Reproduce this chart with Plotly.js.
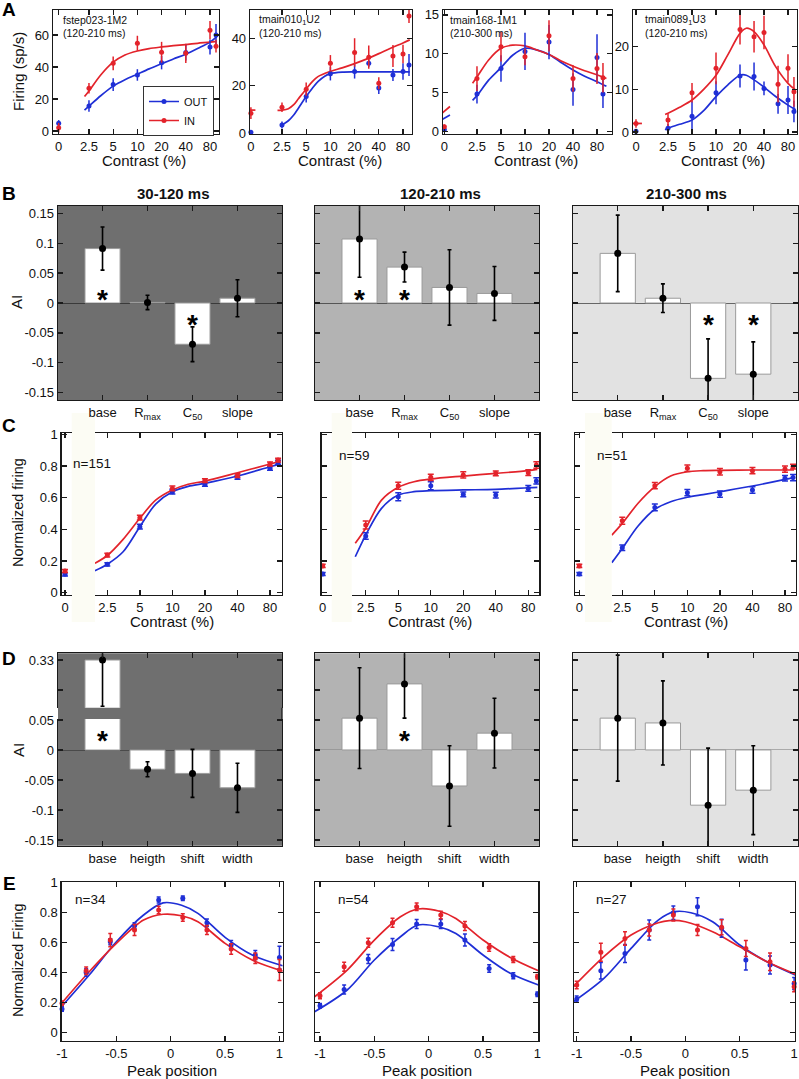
<!DOCTYPE html>
<html><head><meta charset="utf-8">
<script src="https://cdn.plot.ly/plotly-3.0.1.min.js"></script>
<style>html,body{margin:0;padding:0;background:#fff}</style>
</head><body><div id="chart" style="width:799px;height:1079px"></div>
<script>
const FONT = 'Liberation Sans, Arial, Helvetica, sans-serif';
const RED = '#e3232b';
const BLUE = '#1f2fd6';

// ---------------- Row A : single units ----------------
const contrastTicks = [2.5, 5, 10, 20, 40, 80];
const contrastTickText = ['2.5', '5', '10', '20', '40', '80'];
const zeroContrast = [0];

const contrastA1 = [2.5, 5, 10, 20, 40, 80, 95];
const outA1 = [15.6, 29, 35, 42.7, 49, 52.5, 60];
const outErrA1 = [3.6, 4, 3.6, 4.2, 5, 4.7, 6.8];
const inA1 = [26.7, 42.3, 54.8, 49.2, 48.5, 63, 53];
const inErrA1 = [3.3, 4.3, 4.7, 6.5, 6, 5.7, 4];
const zeroOutA1 = [4.8], zeroOutErrA1 = [2], zeroInA1 = [2], zeroInErrA1 = [3];
const fitCA1 = [2.2, 2.5, 3.5, 5, 7, 10, 14, 20, 28, 40, 56, 80, 97];
const fitInA1 = [21.5, 25, 35, 43, 47.5, 50, 51.5, 52.5, 53.3, 54, 54.8, 55.5, 56];
const fitOutA1 = [13, 15.5, 22, 28, 32, 35.5, 38.8, 42, 45, 48, 51.5, 55.5, 59];

const contrastA2 = [2.5, 5, 10, 20, 30, 40, 60, 80, 95];
const outA2 = [3.4, 15.4, 25, 26, 29.4, 19, 24.5, 26, 28.7];
const outErrA2 = [1.5, 2.5, 2.8, 3, 1.5, 2.5, 2.5, 3.5, 4.6];
const inA2 = [10.9, 18.5, 29.4, 34, 32, 21, 32.5, 33.4, 49.4];
const inErrA2 = [2, 2.8, 3.5, 6, 4.9, 2.5, 4.6, 3.9, 3];
const zeroOutA2 = [0.4], zeroOutErrA2 = [0.5], zeroInA2 = [8.4], zeroInErrA2 = [2.5];
const fitCInA2 = [2.2, 2.5, 3, 3.5, 4, 5, 6, 7, 10, 14, 20, 28, 40, 56, 80, 97];
const fitInA2 = [9.6, 9.7, 10.3, 12, 14.5, 18.6, 21.8, 23.8, 26, 27.5, 29.3, 31.2, 33.5, 35.8, 38, 39.3];
const fitCOutA2 = [2.4, 2.5, 3, 3.5, 4, 5, 6, 7, 8.5, 10, 14, 20, 40, 80, 97];
const fitOutA2 = [2.7, 3.4, 5.2, 7.6, 10.5, 15.4, 19, 21.7, 24, 25.1, 25.7, 25.8, 25.8, 25.8, 25.8];
const zeroFitXA2 = [-0.2, 0.25], zeroFitInA2 = [9.7, 9.7];

const contrastA3 = [2.5, 5, 10, 20, 40, 80, 95];
const outA3 = [4.8, 8.1, 10.3, 11.5, 5.4, 9.5, 4.8];
const outErrA3 = [1.2, 1.7, 2.4, 2.2, 2.1, 3, 1.8];
const inA3 = [6.8, 10.9, 9.6, 12.3, 6.8, 8.1, 6.9];
const inErrA3 = [1.6, 1.9, 1.1, 2, 1.7, 2, 1.9];
const zeroOutA3 = [0.2], zeroOutErrA3 = [0.2], zeroInA3 = [0.6], zeroInErrA3 = [0.3];
const fitCA3 = [2.2, 2.5, 3.5, 5, 7, 10, 14, 20, 28, 40, 56, 80, 105];
const fitInA3 = [6.2, 7.0, 9.2, 10.7, 11.1, 11.0, 10.5, 9.9, 9.1, 8.4, 7.8, 7.3, 6.8];
const fitOutA3 = [4.0, 4.6, 6.6, 8.2, 9.8, 10.7, 10.5, 9.9, 8.9, 7.9, 7.1, 6.4, 5.8];
const zeroFitXA3 = [-0.15, 0.33], zeroFitInA3 = [2.3, 3.2], zeroFitOutA3 = [1.5, 2.1];

const contrastA4 = [2.5, 5, 10, 20, 30, 40, 60, 80, 95];
const outA4 = [0.9, 3.7, 9.2, 13.1, 13, 10.2, 6.6, 7.5, 4.8];
const outErrA4 = [1, 3.5, 2.7, 2.7, 3.3, 1.6, 2.3, 3.3, 2.5];
const inA4 = [2.8, 9.2, 14.9, 24, 22.3, 23.3, 11.2, 14.9, 9.4];
const inErrA4 = [1.4, 2.3, 3.7, 3.5, 3.7, 3.9, 4.3, 3.3, 3.5];
const zeroOutA4 = [0.2], zeroOutErrA4 = [0.3], zeroInA4 = [2], zeroInErrA4 = [1];
const fitCA4 = [2.3, 2.5, 3.5, 5, 7, 10, 14, 20, 24, 30, 40, 56, 80, 100];
const fitInA4 = [4.1, 4.4, 5.8, 7.5, 10, 13.3, 18, 23.1, 24.3, 23.5, 20.4, 15.3, 11.4, 9.8];
const fitOutA4 = [0.5, 0.9, 1.8, 2.8, 5, 8.3, 11, 13.3, 13.3, 12.2, 10.5, 8.3, 6.3, 5.2];
const zeroFitXA4 = [-0.18, 0.35], zeroFitInA4 = [2, 2];

// ---------------- Row B : attention index of contrast fit params ----------------
const paramsB = ['base', 'R<sub>max</sub>', 'C<sub>50</sub>', 'slope'];
const aiB1 = [0.091, 0.001, -0.069, 0.008], errB1 = [0.036, 0.012, 0.029, 0.031], sigB1 = [1, 0, 1, 0];
const aiB2 = [0.107, 0.06, 0.026, 0.016], errB2 = [0.064, 0.025, 0.063, 0.045], sigB2 = [1, 1, 0, 0];
const aiB3 = [0.083, 0.008, -0.126, -0.119], errB3 = [0.064, 0.024, 0.066, 0.054], sigB3 = [0, 0, 1, 1];
const aiTickVals = [-0.15, -0.1, -0.05, 0, 0.05, 0.1, 0.15];
const aiTickText = ['-0.15', '-0.1', '-0.05', '0', '0.05', '0.1', '0.15'];

// ---------------- Row C : population contrast responses ----------------
const contrastC = [2.5, 5, 10, 20, 40, 80, 95];
const outC1 = [0.179, 0.417, 0.638, 0.685, 0.729, 0.786, 0.824];
const outErrC1 = [0.01, 0.015, 0.015, 0.012, 0.012, 0.012, 0.012];
const inC1 = [0.238, 0.474, 0.659, 0.708, 0.74, 0.813, 0.838];
const inErrC1 = [0.012, 0.015, 0.015, 0.012, 0.012, 0.012, 0.012];
const zeroOutC1 = [0.116], zeroInC1 = [0.137], zeroErrC1 = [0.01];
const fitCC1 = [1.92, 2.5, 3.5, 5, 7, 10, 14, 20, 40, 80, 97];
const fitInC1 = [0.186, 0.235, 0.337, 0.47, 0.585, 0.649, 0.685, 0.705, 0.758, 0.813, 0.828];
const fitOutC1 = [0.139, 0.18, 0.259, 0.417, 0.56, 0.638, 0.672, 0.691, 0.737, 0.796, 0.811];

const outC2 = [0.358, 0.606, 0.676, 0.621, 0.617, 0.659, 0.706];
const outErrC2 = [0.02, 0.025, 0.025, 0.015, 0.018, 0.018, 0.02];
const inC2 = [0.428, 0.676, 0.729, 0.744, 0.754, 0.758, 0.807];
const inErrC2 = [0.025, 0.022, 0.02, 0.02, 0.015, 0.018, 0.02];
const zeroOutC2 = [0.118], zeroInC2 = [0.169], zeroErrC2 = [0.01];
const fitCC2 = [2.0, 2.5, 3.5, 5, 7, 10, 20, 40, 80, 97];
const fitInC2 = [0.312, 0.407, 0.585, 0.666, 0.701, 0.718, 0.737, 0.754, 0.771, 0.779];
const fitOutC2 = [0.227, 0.364, 0.533, 0.617, 0.638, 0.644, 0.649, 0.653, 0.663, 0.665];

const outC3 = [0.284, 0.539, 0.632, 0.623, 0.649, 0.723, 0.727];
const outErrC3 = [0.018, 0.022, 0.02, 0.02, 0.02, 0.018, 0.02];
const inC3 = [0.455, 0.676, 0.786, 0.764, 0.771, 0.781, 0.796];
const inErrC3 = [0.022, 0.02, 0.02, 0.02, 0.02, 0.02, 0.015];
const zeroOutC3 = [0.118], zeroInC3 = [0.169], zeroErrC3 = [0.01];
const fitCC3 = [2.0, 2.5, 3.5, 5, 7, 10, 14, 20, 40, 80, 97];
const fitInC3 = [0.364, 0.438, 0.565, 0.67, 0.737, 0.764, 0.771, 0.773, 0.775, 0.775, 0.775];
const fitOutC3 = [0.19, 0.28, 0.421, 0.527, 0.575, 0.603, 0.62, 0.638, 0.674, 0.716, 0.729];

// ---------------- Row D : attention index of peak fit params ----------------
const paramsD = ['base', 'heigth', 'shift', 'width'];
const aiD1 = [0.33, -0.032, -0.039, -0.063], errD1 = [0.077, 0.0125, 0.04, 0.041], sigD1 = [1, 0, 0, 0];
const aiD2 = [0.053, 0.11, -0.06, 0.028], errD2 = [0.084, 0.057, 0.067, 0.058], sigD2 = [0, 1, 0, 0];
const aiD3 = [0.053, 0.045, -0.092, -0.067], errD3 = [0.105, 0.07, 0.095, 0.074], sigD3 = [0, 0, 0, 0];

// ---------------- Row E : population peak tuning ----------------
const peakPos = [-1, -0.778, -0.556, -0.333, -0.111, 0.111, 0.333, 0.556, 0.778, 1];
const outE1 = [0.158, 0.402, 0.607, 0.713, 0.885, 0.896, 0.733, 0.585, 0.518, 0.502];
const outErrE1 = [0.015, 0.025, 0.02, 0.02, 0.02, 0.015, 0.025, 0.03, 0.03, 0.075];
const inE1 = [0.196, 0.413, 0.618, 0.685, 0.818, 0.769, 0.685, 0.558, 0.496, 0.418];
const inErrE1 = [0.015, 0.025, 0.044, 0.037, 0.025, 0.025, 0.03, 0.035, 0.035, 0.07];
const fitXE1 = [-1, -0.75, -0.5, -0.25, -0.07, 0.1, 0.25, 0.5, 0.75, 1.03];
const fitOutE1 = [0.178, 0.385, 0.607, 0.785, 0.866, 0.85, 0.796, 0.636, 0.518, 0.447];
const fitInE1 = [0.2, 0.407, 0.596, 0.751, 0.79, 0.78, 0.74, 0.596, 0.485, 0.411];

const outE2 = [0.18, 0.289, 0.491, 0.589, 0.725, 0.725, 0.618, 0.429, 0.38, 0.256];
const outErrE2 = [0.015, 0.03, 0.03, 0.04, 0.03, 0.03, 0.04, 0.025, 0.02, 0.015];
const inE2 = [0.247, 0.44, 0.6, 0.733, 0.84, 0.785, 0.711, 0.569, 0.489, 0.373];
const inErrE2 = [0.02, 0.03, 0.03, 0.03, 0.025, 0.025, 0.03, 0.025, 0.02, 0.015];
const fitXE2 = [-1.05, -0.75, -0.5, -0.26, -0.1, 0.1, 0.25, 0.5, 0.75, 1.01];
const fitOutE2 = [0.14, 0.285, 0.485, 0.64, 0.718, 0.705, 0.662, 0.518, 0.396, 0.318];
const fitInE2 = [0.24, 0.418, 0.618, 0.773, 0.825, 0.81, 0.762, 0.618, 0.502, 0.413];

const outE3 = [0.225, 0.413, 0.529, 0.685, 0.8, 0.84, 0.696, 0.485, 0.451, 0.329];
const outErrE3 = [0.02, 0.055, 0.06, 0.066, 0.045, 0.06, 0.06, 0.066, 0.06, 0.04];
const inE3 = [0.318, 0.536, 0.629, 0.685, 0.785, 0.685, 0.703, 0.562, 0.473, 0.307];
const inErrE3 = [0.025, 0.06, 0.045, 0.04, 0.04, 0.037, 0.05, 0.053, 0.058, 0.033];
const fitXE3 = [-1.03, -0.75, -0.5, -0.25, -0.15, 0, 0.25, 0.5, 0.75, 1.01];
const fitInE3 = [0.307, 0.507, 0.651, 0.733, 0.748, 0.74, 0.673, 0.573, 0.473, 0.391];
const fitXE3b = [-1.03, -0.75, -0.5, -0.25, -0.1, 0.05, 0.25, 0.5, 0.75, 1.01];
const fitOutE3b = [0.207, 0.362, 0.562, 0.751, 0.807, 0.8, 0.74, 0.585, 0.473, 0.385];

const normTicks = [0, 0.2, 0.4, 0.6, 0.8, 1];
const normTickText = ['0', '0.2', '0.4', '0.6', '0.8', '1'];
const peakTicks = [-1, -0.5, 0, 0.5, 1];
const peakTickText = ['-1', '-0.5', '0', '0.5', '1'];

// ====================== build ======================
const W = 799, H = 1079;
const px = p => p / W;
const py = p => 1 - p / H;

const layout = {
  width: W, height: H, margin: {l: 0, r: 0, t: 0, b: 0},
  paper_bgcolor: '#ffffff', plot_bgcolor: 'rgba(0,0,0,0)',
  font: {family: FONT, size: 13, color: '#111'},
  hovermode: false, showlegend: true,
  legend: {x: px(214), xanchor: 'right', y: py(86), yanchor: 'top', bgcolor: '#ffffff',
           bordercolor: '#333', borderwidth: 1, font: {size: 11, family: FONT, color: '#111'},
           itemwidth: 30, tracegroupgap: 0},
  shapes: [], annotations: []
};
const traces = [];
let nx = 0, ny = 0;
function addAxis(letter) {
  if (letter === 'x') { nx++; const id = nx === 1 ? 'x' : 'x' + nx; layout[nx === 1 ? 'xaxis' : 'xaxis' + nx] = {}; return id; }
  ny++; const id = ny === 1 ? 'y' : 'y' + ny; layout[ny === 1 ? 'yaxis' : 'yaxis' + ny] = {}; return id;
}
function ax(id) { return layout[id.charAt(0) + 'axis' + id.slice(1)]; }
function baseAx(extra) {
  return Object.assign({showgrid: false, zeroline: false, showline: true, linecolor: '#1a1a1a', linewidth: 1.3,
    ticks: 'inside', ticklen: 5, tickwidth: 1.3, tickcolor: '#1a1a1a', fixedrange: true,
    tickfont: {family: FONT, size: 13, color: '#111'}}, extra);
}
function rect(x0, x1, y0, y1, color) {
  layout.shapes.push({type: 'rect', xref: 'paper', yref: 'paper', x0: px(x0), x1: px(x1), y0: py(y1), y1: py(y0),
    fillcolor: color, line: {width: 0}, layer: 'below'});
}
function ann(text, x, y, o) {
  layout.annotations.push(Object.assign({xref: 'paper', yref: 'paper', x: px(x), y: py(y), text: text, showarrow: false,
    xanchor: 'center', yanchor: 'middle', font: {family: FONT, size: 15, color: '#111'}}, o || {}));
}
function pts(x, y, err, color, xa, ya, cap, size) {
  traces.push({type: 'scatter', mode: 'markers', x: x, y: y, xaxis: xa, yaxis: ya, cliponaxis: false, showlegend: false,
    marker: {color: color, size: size || 5}, error_y: {type: 'data', array: err, visible: true, color: color, thickness: 1.5, width: cap || 0}});
}
function curve(x, y, color, xa, ya) {
  traces.push({type: 'scatter', mode: 'lines', x: x, y: y, xaxis: xa, yaxis: ya, showlegend: false,
    line: {color: color, width: 1.7, shape: 'spline', smoothing: 0.9}});
}

function contrastPanel(g) {
  const xz = addAxis('x'), xg = addAxis('x'), yl = addAxis('y'), yr = addAxis('y');
  Object.assign(ax(xz), baseAx({domain: [px(g.L), px(g.Z)], range: g.zr, tickvals: [0], ticktext: ['0'], anchor: yl, mirror: 'ticks'}));
  Object.assign(ax(xg), baseAx({type: 'log', domain: [px(g.G), px(g.R)], range: g.gr, tickvals: contrastTicks, ticktext: contrastTickText, anchor: yr, mirror: 'ticks'}));
  Object.assign(ax(yl), baseAx({domain: [py(g.bot), py(g.top)], range: g.yr, tickvals: g.yt, ticktext: g.ytt, anchor: xz, showticklabels: g.showY}));
  Object.assign(ax(yr), baseAx({domain: [py(g.bot), py(g.top)], range: g.yr, tickvals: g.yt, anchor: xg, side: 'right', showticklabels: false}));
  return {xz: xz, xg: xg, yl: yl, yr: yr};
}
function catPanel(cats, g) {
  const xa = addAxis('x'), ya = addAxis('y');
  Object.assign(ax(xa), baseAx({type: 'category', categoryorder: 'array', categoryarray: cats, domain: [px(g.L), px(g.R)], range: [-0.99, 3.99], anchor: ya, mirror: 'ticks'}));
  Object.assign(ax(ya), baseAx({domain: [py(g.bot), py(g.top)], range: g.yr, tickvals: aiTickVals, ticktext: aiTickText, anchor: xa, mirror: 'ticks',
    showticklabels: g.showY, zeroline: true, zerolinecolor: g.zc, zerolinewidth: 1}));
  rect(g.L, g.R, g.top, g.bot, g.bg);
  return {xa: xa, ya: ya};
}
function barsAndDots(cats, vals, errs, xa, ya) {
  traces.push({type: 'bar', x: cats, y: vals, xaxis: xa, yaxis: ya, width: 0.78, showlegend: false,
    marker: {color: '#ffffff', line: {color: '#9a9a9a', width: 1}}});
  traces.push({type: 'scatter', mode: 'markers', x: cats, y: vals, xaxis: xa, yaxis: ya, showlegend: false,
    marker: {color: '#000', size: 7}, error_y: {type: 'data', array: errs, visible: true, color: '#000', thickness: 1.6, width: 2}});
}
function stars(vals, sig, xa, ya, posY, negY) {
  vals.forEach((v, i) => {
    if (sig[i]) layout.annotations.push({xref: xa, yref: ya, x: i, y: v > 0 ? posY : negY, text: '<b>*</b>', showarrow: false,
      font: {family: FONT, size: 28, color: '#000'}, yshift: -7});
  });
}

// ---------- Row A ----------
const aCfg = [
  {L: 53, Z: 70, G: 70, R: 219, zr: [-0.335, 0.665], gr: [0.162, 2.015], yr: [-1.9, 75.6], yt: [0, 20, 40, 60]},
  {L: 250, Z: 268, G: 268, R: 412, zr: [-0.05, 0.95], gr: [0.224, 2.015], yr: [-0.38, 51.9], yt: [0, 20, 40]},
  {L: 443, Z: 460, G: 460, R: 612, zr: [-0.08, 0.92], gr: [0.185, 2.091], yr: [-0.34, 15.63], yt: [0, 5, 10, 15]},
  {L: 633, Z: 650, G: 650, R: 797, zr: [-0.176, 0.824], gr: [0.172, 2.016], yr: [-0.47, 28.57], yt: [0, 10, 20]}
];
const aPanels = aCfg.map(c => contrastPanel(Object.assign({top: 10, bot: 134, ytt: c.yt.map(String), showY: true}, c)));
(function () {
  const p = aPanels[0];
  curve(fitCA1, fitOutA1, BLUE, p.xg, p.yr); curve(fitCA1, fitInA1, RED, p.xg, p.yr);
  pts(contrastA1, outA1, outErrA1, BLUE, p.xg, p.yr); pts(contrastA1, inA1, inErrA1, RED, p.xg, p.yr);
  pts(zeroContrast, zeroOutA1, zeroOutErrA1, BLUE, p.xz, p.yl); pts(zeroContrast, zeroInA1, zeroInErrA1, RED, p.xz, p.yl);
  traces.push({type: 'scatter', mode: 'lines+markers', name: 'OUT', x: [null], y: [null], xaxis: p.xg, yaxis: p.yr, line: {color: BLUE, width: 1.5}, marker: {color: BLUE, size: 5}});
  traces.push({type: 'scatter', mode: 'lines+markers', name: 'IN', x: [null], y: [null], xaxis: p.xg, yaxis: p.yr, line: {color: RED, width: 1.5}, marker: {color: RED, size: 5}});
})();
(function () {
  const p = aPanels[1];
  curve(fitCOutA2, fitOutA2, BLUE, p.xg, p.yr); curve(fitCInA2, fitInA2, RED, p.xg, p.yr);
  curve(zeroFitXA2, zeroFitInA2, RED, p.xz, p.yl);
  pts(contrastA2, outA2, outErrA2, BLUE, p.xg, p.yr); pts(contrastA2, inA2, inErrA2, RED, p.xg, p.yr);
  pts(zeroContrast, zeroOutA2, zeroOutErrA2, BLUE, p.xz, p.yl); pts(zeroContrast, zeroInA2, zeroInErrA2, RED, p.xz, p.yl);
})();
(function () {
  const p = aPanels[2];
  curve(fitCA3, fitOutA3, BLUE, p.xg, p.yr); curve(fitCA3, fitInA3, RED, p.xg, p.yr);
  curve(zeroFitXA3, zeroFitOutA3, BLUE, p.xz, p.yl); curve(zeroFitXA3, zeroFitInA3, RED, p.xz, p.yl);
  pts(contrastA3, outA3, outErrA3, BLUE, p.xg, p.yr); pts(contrastA3, inA3, inErrA3, RED, p.xg, p.yr);
  pts(zeroContrast, zeroOutA3, zeroOutErrA3, BLUE, p.xz, p.yl); pts(zeroContrast, zeroInA3, zeroInErrA3, RED, p.xz, p.yl);
})();
(function () {
  const p = aPanels[3];
  curve(fitCA4, fitOutA4, BLUE, p.xg, p.yr); curve(fitCA4, fitInA4, RED, p.xg, p.yr);
  curve(zeroFitXA4, zeroFitInA4, RED, p.xz, p.yl);
  pts(contrastA4, outA4, outErrA4, BLUE, p.xg, p.yr); pts(contrastA4, inA4, inErrA4, RED, p.xg, p.yr);
  pts(zeroContrast, zeroOutA4, zeroOutErrA4, BLUE, p.xz, p.yl); pts(zeroContrast, zeroInA4, zeroInErrA4, RED, p.xz, p.yl);
})();
ann('<b>A</b>', 9, 9, {font: {family: FONT, size: 19, color: '#000'}});
ann('Firing (sp/s)', 18, 72, {textangle: -90});
[144, 340, 536, 723].forEach(cx => ann('Contrast (%)', cx, 160));
[[61, 'fstep023-1M2', '(120-210 ms)'], [257, 'tmain010<sub>1</sub>U2', '(120-210 ms)'], [448, 'tmain168-1M1', '(210-300 ms)'], [643, 'tmain089<sub>1</sub>U3', '(120-210 ms)']].forEach(t => {
  ann(t[1], t[0], 20.5, {xanchor: 'left', font: {family: FONT, size: 10.5, color: '#111'}});
  ann(t[2], t[0], 33.5, {xanchor: 'left', font: {family: FONT, size: 10.5, color: '#111'}});
});

// ---------- Row B ----------
const bGeom = [{L: 58, R: 282, bg: '#6f6f6f', zc: '#3a3a3a', showY: true}, {L: 315, R: 539, bg: '#b3b3b3', zc: '#555', showY: false}, {L: 573, R: 798, bg: '#e2e2e2', zc: '#666', showY: false}];
const bData = [[aiB1, errB1, sigB1], [aiB2, errB2, sigB2], [aiB3, errB3, sigB3]];
bGeom.forEach((g, i) => {
  const p = catPanel(paramsB, Object.assign({top: 206, bot: 400, yr: [-0.1622, 0.1622]}, g));
  barsAndDots(paramsB, bData[i][0], bData[i][1], p.xa, p.ya);
  stars(bData[i][0], bData[i][2], p.xa, p.ya, 0.018, -0.025);
});
ann('<b>B</b>', 9, 193, {font: {family: FONT, size: 19, color: '#000'}});
ann('AI', 17, 302, {textangle: -90});
ann('<b>30-120 ms</b>', 173, 193); ann('<b>120-210 ms</b>', 440, 193); ann('<b>210-300 ms</b>', 686, 193);

// ---------- Row C ----------
const cCfg = [
  {L: 61.7, Z: 71.7, G: 95, R: 282, zr: [-0.33, 0.67], gr: [0.284, 2.014], showY: true},
  {L: 321.7, Z: 331.7, G: 351.7, R: 539.3, zr: [-0.1, 0.9], gr: [0.268, 2.005], showY: false},
  {L: 575, Z: 585, G: 611.7, R: 796, zr: [-0.43, 0.57], gr: [0.300, 2.005], showY: false}
];
const cData = [
  [outC1, outErrC1, inC1, inErrC1, zeroOutC1, zeroInC1, zeroErrC1, fitCC1, fitOutC1, fitInC1],
  [outC2, outErrC2, inC2, inErrC2, zeroOutC2, zeroInC2, zeroErrC2, fitCC2, fitOutC2, fitInC2],
  [outC3, outErrC3, inC3, inErrC3, zeroOutC3, zeroInC3, zeroErrC3, fitCC3, fitOutC3, fitInC3]
];
cCfg.forEach((c, i) => {
  const p = contrastPanel(Object.assign({top: 433.3, bot: 595, yr: [-0.0145, 1.007], yt: normTicks, ytt: normTickText}, c));
  rect(c.Z, c.G, 413, 622, '#fcfcf4');
  const d = cData[i];
  curve(d[7], d[8], BLUE, p.xg, p.yr); curve(d[7], d[9], RED, p.xg, p.yr);
  pts(contrastC, d[0], d[1], BLUE, p.xg, p.yr, 3); pts(contrastC, d[2], d[3], RED, p.xg, p.yr, 3);
  pts(zeroContrast, d[4], d[6], BLUE, p.xz, p.yl, 3); pts(zeroContrast, d[5], d[6], RED, p.xz, p.yl, 3);
});
ann('<b>C</b>', 9, 425, {font: {family: FONT, size: 19, color: '#000'}});
ann('Normalized firing', 18, 513, {textangle: -90, font: {family: FONT, size: 14.5, color: '#111'}});
[172, 430, 686].forEach(cx => ann('Contrast (%)', cx, 621));
ann('n=151', 92, 463, {font: {family: FONT, size: 13.5, color: '#111'}});
ann('n=59', 354, 455, {font: {family: FONT, size: 13.5, color: '#111'}});
ann('n=51', 612, 455, {font: {family: FONT, size: 13.5, color: '#111'}});

// ---------- Row D ----------
(function () {
  const xb = addAxis('x'), ylo = addAxis('y'), xt = addAxis('x'), yhi = addAxis('y');
  Object.assign(ax(xb), baseAx({type: 'category', categoryorder: 'array', categoryarray: paramsD, domain: [px(58), px(282)], range: [-0.99, 3.99], anchor: ylo}));
  Object.assign(ax(ylo), baseAx({domain: [py(845.7), py(719)], range: [-0.1595, 0.0517], tickvals: [-0.15, -0.1, -0.05, 0, 0.05], ticktext: ['-0.15', '-0.1', '-0.05', '0', '0.05'],
    anchor: xb, mirror: 'ticks', zeroline: true, zerolinecolor: '#4a4a4a', zerolinewidth: 1}));
  Object.assign(ax(xt), baseAx({type: 'category', categoryorder: 'array', categoryarray: paramsD, domain: [px(58), px(282)], range: [-0.99, 3.99], anchor: yhi, side: 'top', showticklabels: false}));
  Object.assign(ax(yhi), baseAx({domain: [py(707.7), py(653.3)], range: [0.2505, 0.3412], tickvals: [0.28, 0.33], ticktext: [' ', '0.33'], anchor: xt, mirror: 'ticks'}));
  rect(58, 282, 653.3, 845.7, '#6f6f6f');
  layout.shapes.push({type: 'line', xref: 'paper', yref: 'paper', x0: px(282), x1: px(282), y0: py(707.7), y1: py(719), line: {color: '#1a1a1a', width: 1.3}});
  barsAndDots(paramsD, aiD1, errD1, xb, ylo);
  barsAndDots(paramsD, aiD1, errD1, xt, yhi);
  stars(aiD1, sigD1, xb, ylo, 0.028, -0.025);
})();
const dGeom = [{L: 315, R: 539, bg: '#b3b3b3', zc: '#999', showY: false}, {L: 573, R: 798, bg: '#e2e2e2', zc: '#aaa', showY: false}];
const dData = [[aiD2, errD2, sigD2], [aiD3, errD3, sigD3]];
dGeom.forEach((g, i) => {
  const p = catPanel(paramsD, Object.assign({top: 653.3, bot: 845.7, yr: [-0.1595, 0.161]}, g));
  barsAndDots(paramsD, dData[i][0], dData[i][1], p.xa, p.ya);
  stars(dData[i][0], dData[i][2], p.xa, p.ya, 0.028, -0.025);
});
ann('<b>D</b>', 9, 658, {font: {family: FONT, size: 19, color: '#000'}});
ann('AI', 18, 750, {textangle: -90});

// ---------- Row E ----------
const eGeom = [{L: 61.7, R: 282.7, xr: [-1.003, 1.03], showY: true}, {L: 315, R: 538.3, xr: [-1.046, 1.008], showY: false}, {L: 574, R: 795, xr: [-1.025, 1.008], showY: false}];
const eData = [
  [outE1, outErrE1, inE1, inErrE1, fitXE1, fitOutE1, fitXE1, fitInE1],
  [outE2, outErrE2, inE2, inErrE2, fitXE2, fitOutE2, fitXE2, fitInE2],
  [outE3, outErrE3, inE3, inErrE3, fitXE3b, fitOutE3b, fitXE3, fitInE3]
];
eGeom.forEach((g, i) => {
  const xa = addAxis('x'), ya = addAxis('y');
  Object.assign(ax(xa), baseAx({domain: [px(g.L), px(g.R)], range: g.xr, tickvals: peakTicks, ticktext: peakTickText, anchor: ya, mirror: 'ticks'}));
  Object.assign(ax(ya), baseAx({domain: [py(1040.7), py(882.3)], range: [-0.053, 1.003], tickvals: normTicks, ticktext: normTickText, anchor: xa, mirror: 'ticks', showticklabels: g.showY}));
  const d = eData[i];
  curve(d[4], d[5], BLUE, xa, ya); curve(d[6], d[7], RED, xa, ya);
  pts(peakPos, d[0], d[1], BLUE, xa, ya, 2); pts(peakPos, d[2], d[3], RED, xa, ya, 2);
});
ann('<b>E</b>', 9, 883, {font: {family: FONT, size: 19, color: '#000'}});
ann('Normalized Firing', 18, 960, {textangle: -90, font: {family: FONT, size: 14.5, color: '#111'}});
[172, 427, 685].forEach(cx => ann('Peak position', cx, 1070));
ann('n=34', 90, 899, {font: {family: FONT, size: 13.5, color: '#111'}});
ann('n=54', 353, 899, {font: {family: FONT, size: 13.5, color: '#111'}});
ann('n=27', 611, 899, {font: {family: FONT, size: 13.5, color: '#111'}});

Plotly.newPlot('chart', traces, layout, {staticPlot: true, displayModeBar: false});
</script></body></html>
